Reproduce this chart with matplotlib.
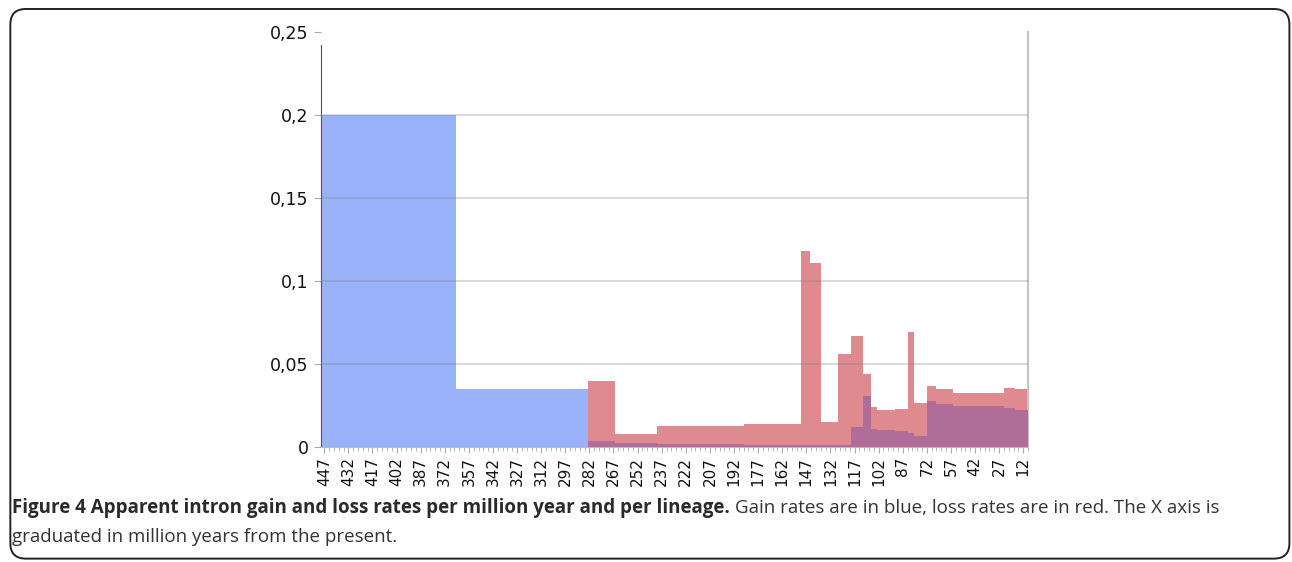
import matplotlib.pyplot as plt
import numpy as np
from matplotlib.patches import FancyBboxPatch
from matplotlib.ticker import FixedLocator, FuncFormatter, MultipleLocator

# step edges in million years before present (left to right = old to recent)
gain_edges = [449, 365, 283, 266, 240, 186, 150, 119, 112, 107, 103, 92, 84, 80, 72, 66, 56, 24, 17, 9]
gain_rates = [0.2, 0.035, 0.0036, 0.0026, 0.0018, 0.0015, 0.0012, 0.0119, 0.031, 0.0108,
              0.0102, 0.0096, 0.0087, 0.0066, 0.0277, 0.026, 0.0247, 0.0233, 0.0223]

loss_edges = [283, 266, 240, 186, 150, 145, 138, 127, 119, 112, 107, 103, 92, 84, 80, 72, 66, 56, 24, 17, 9]
loss_rates = [0.04, 0.008, 0.0128, 0.0137, 0.118, 0.1107, 0.0152, 0.0558, 0.0669, 0.0438,
              0.0243, 0.0223, 0.0228, 0.069, 0.0267, 0.037, 0.0348, 0.0327, 0.0355, 0.035]

tick_labels = list(range(447, 11, -15))

blue = "#9ab2fa"
red = "#de8a8f"
purple = "#b06d97"


def step_xy(edges, vals):
    xs, ys = [], []
    for i, v in enumerate(vals):
        xs += [edges[i], edges[i + 1]]
        ys += [v, v]
    return np.array(xs, float), np.array(ys, float)


def value_at(edges, vals, t):
    for i, v in enumerate(vals):
        if edges[i] >= t >= edges[i + 1]:
            return v
    return 0.0


fig = plt.figure(figsize=(12.92, 5.62), dpi=100)
ax = fig.add_axes([0.2485, 0.2046, 0.5472, 0.7384])

gx, gy = step_xy(gain_edges, gain_rates)
lx, ly = step_xy(loss_edges, loss_rates)

ax.fill_between(gx, 0, gy, color=blue, lw=0, zorder=1)
ax.fill_between(lx, 0, ly, color=red, lw=0, zorder=2)

# overlap of the two series, where both gain and loss are present
ov_edges = sorted(set(e for e in gain_edges + loss_edges if e <= loss_edges[0]), reverse=True)
ov_vals = []
for a, b in zip(ov_edges[:-1], ov_edges[1:]):
    mid = (a + b) / 2
    ov_vals.append(min(value_at(gain_edges, gain_rates, mid), value_at(loss_edges, loss_rates, mid)))
ox, oy = step_xy(ov_edges, ov_vals)
ax.fill_between(ox, 0, oy, color=purple, lw=0, zorder=3)

ax.set_xlim(449, 9)
ax.set_ylim(0, 0.25)

for yv in [0.05, 0.1, 0.15, 0.2]:
    ax.axhline(yv, color="#808080", alpha=0.35, lw=1.2, zorder=4)

ax.yaxis.set_major_locator(FixedLocator([0, 0.05, 0.1, 0.15, 0.2, 0.25]))
ax.yaxis.set_major_formatter(FuncFormatter(lambda v, p: ("%g" % round(v, 2)).replace(".", ",")))
ax.xaxis.set_major_locator(FixedLocator(tick_labels))
ax.xaxis.set_minor_locator(MultipleLocator(3))
ax.set_xticklabels([str(t) for t in tick_labels], rotation=90)

ax.tick_params(axis="y", labelsize=12.5, length=5, color="#aaaaaa", pad=4, labelcolor="#111111")
ax.tick_params(axis="x", which="major", labelsize=11, length=4, color="#aaaaaa", pad=3, labelcolor="#111111")
ax.tick_params(axis="x", which="minor", length=3, color="#aaaaaa")

ax.spines["top"].set_visible(False)
ax.spines["left"].set_color("#555555")
ax.spines["left"].set_bounds(0, 0.242)
ax.spines["right"].set_color("#c4c4c4")
ax.spines["right"].set_linewidth(1.5)
ax.spines["bottom"].set_color("#bbbbbb")

# caption frame
frame = FancyBboxPatch((0.008, 0.006), 0.99, 0.978, boxstyle="round,pad=0,rounding_size=0.012",
                       transform=fig.transFigure, fill=False, ec="#222222", lw=1.4,
                       mutation_aspect=1292 / 562)
fig.patches.append(frame)

cap_size = 13.5
title = fig.text(0.0095, 0.087, "Figure 4 Apparent intron gain and loss rates per million year and per lineage.",
                 fontsize=cap_size, fontweight="bold", family="Open Sans", color="#2a2a2a", va="baseline")
fig.canvas.draw()
bb = title.get_window_extent()
fig.text(bb.x1 / fig.bbox.width + 0.004, 0.087,
         "Gain rates are in blue, loss rates are in red. The X axis is",
         fontsize=cap_size, family="Open Sans", color="#333333", va="baseline")
fig.text(0.0095, 0.036, "graduated in million years from the present.",
         fontsize=cap_size, family="Open Sans", color="#333333", va="baseline")

fig.savefig("out.png", dpi=100)
